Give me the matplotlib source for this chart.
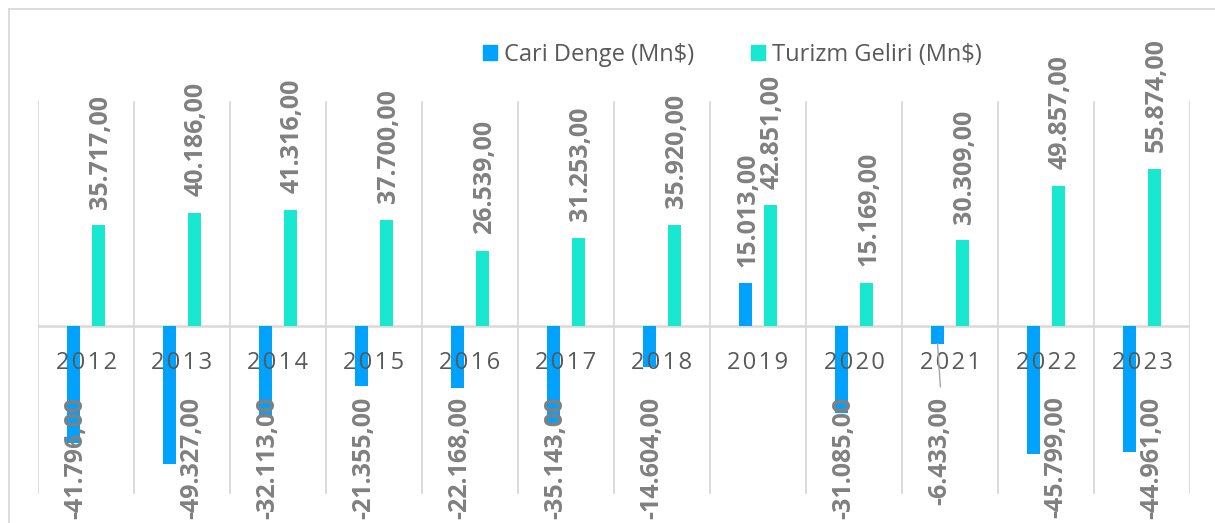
import numpy as np
import matplotlib.pyplot as plt
from matplotlib.lines import Line2D
from matplotlib.patches import Patch

plt.rcParams['font.family'] = ['Open Sans', 'DejaVu Sans']

# data
years = ['2012', '2013', '2014', '2015', '2016', '2017',
         '2018', '2019', '2020', '2021', '2022', '2023']
cari_denge = [-41.796, -49.327, -32.113, -21.355, -22.168, -35.143,
              -14.604, 15.013, -31.085, -6.433, -45.799, -44.961]
turizm_geliri = [35.717, 40.186, 41.316, 37.700, 26.539, 31.253,
                 35.920, 42.851, 15.169, 30.309, 49.857, 55.874]


def fmt(v):
    # turkish style: 41.796,00 (values are in thousands already)
    return f"{v:.3f},00"


c_cari = '#00A2FF'
c_tur = '#17E8CF'
c_lbl = '#808080'
c_grid = '#D9D9D9'

fig = plt.figure(figsize=(12.15, 5.23), dpi=100)
ax = fig.add_axes([38 / 1215, 1 - 494 / 523, (1190 - 38) / 1215, (494 - 101) / 523])

x = np.arange(len(years))
w = 0.135
off = 0.13
ax.bar(x - off, cari_denge, w, color=c_cari, zorder=3)
ax.bar(x + off, turizm_geliri, w, color=c_tur, zorder=3)

ax.set_xlim(-0.5, len(years) - 0.5)
ax.set_ylim(-60, 80)
for b in np.arange(-0.5, len(years), 1.0):
    ax.axvline(b, color=c_grid, lw=1.3, zorder=1)
ax.axhline(0, color=c_grid, lw=1.8, zorder=2)

for s in ax.spines.values():
    s.set_visible(False)
ax.set_yticks([])
ax.set_xticks([])

# year labels sitting just under the zero line (a bit spaced out like excel)
for xi, yr in zip(x, years):
    ax.text(xi, -13.3, '\u200a'.join(yr), ha='center', va='center', fontsize=17,
            color='#595959', zorder=4)

lbl_kw = dict(rotation=90, fontsize=18, fontweight='bold', color=c_lbl,
              textcoords='offset points', annotation_clip=False, zorder=5)

neg_top = -25.3
for xi, v in zip(x, cari_denge):
    if v >= 0:
        ax.annotate(fmt(v), (xi - off, v), xytext=(1.5, 12), ha='center',
                    va='bottom', **lbl_kw)
    else:
        dx = 16 if v < -44 else 1.5
        ax.annotate(fmt(v), (xi - off, neg_top), xytext=(dx, 0), ha='center',
                    va='top', **lbl_kw)
        if neg_top - v < -15:
            # leader line from short bar down to its label
            ax.plot([xi - off, xi - off + 0.03], [v, neg_top + 3.5],
                    color='#A6A6A6', lw=1, zorder=4)

for xi, v in zip(x, turizm_geliri):
    ax.annotate(fmt(v), (xi + off, v), xytext=(1.5, 12), ha='center',
                va='bottom', **lbl_kw)

# legend
handles = [Patch(color=c_cari), Patch(color=c_tur)]
leg = fig.legend(handles, ['Cari Denge (Mn$)', 'Turizm Geliri (Mn$)'],
                 loc='center', bbox_to_anchor=(0.603, 1 - 55 / 523), ncol=2,
                 frameon=False, fontsize=17, handlelength=0.6, handleheight=0.6,
                 handletextpad=0.3, columnspacing=2.4, labelcolor='#595959')

# chart frame
fig.add_artist(Line2D([8.5 / 1215, 8.5 / 1215], [0, 1 - 8.5 / 523],
                      color=c_grid, lw=1.3))
fig.add_artist(Line2D([8.5 / 1215, 1], [1 - 8.5 / 523, 1 - 8.5 / 523],
                      color=c_grid, lw=1.3))

fig.savefig('out.png', dpi=100)
